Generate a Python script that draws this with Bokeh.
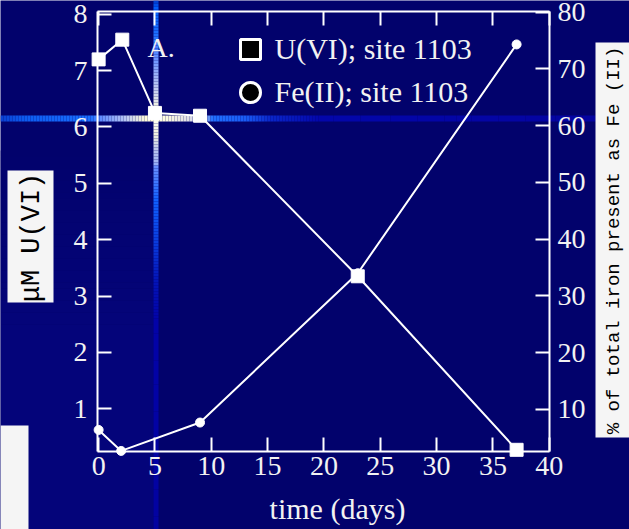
from bokeh.plotting import figure
from bokeh.models import (Range1d, LinearAxis, SingleIntervalTicker, Legend,
                          LegendItem, Label, BoxAnnotation)
from bokeh.embed import file_html
from bokeh.resources import INLINE

# Sampling times (days) and measured values
days_u = [0.0, 2.1, 5.0, 9.0, 23.0, 37.1]
u_vi_um = [7.2, 7.55, 6.25, 6.2, 3.35, 0.27]
days_fe = [0.0, 2.0, 9.0, 23.0, 37.1]
fe_ii_pct = [6.4, 2.7, 7.7, 34.0, 74.3]

series_names = ["U(VI); site 1103", "Fe(II); site 1103"]
panel_tag = "A."
x_title = "time (days)"
left_title = "μM U(VI)"
right_title = "% of total iron present as Fe (II)"

W, H = 629, 529
# plot box on the canvas (px) and the data limits it shows
BOX_L, BOX_R, BOX_T, BOX_B = 97, 549, 11, 451
X_LO, X_HI = -0.1, 40.02
U_LO, U_HI = 0.24, 8.05
FE_LO, FE_HI = 2.6, 80.1


def stretch(lo, hi, p_lo, p_hi, total):
    """Extend a data interval shown between pixels p_lo..p_hi to the full 0..total."""
    k = (hi - lo) / (p_hi - p_lo)
    return lo - p_lo * k, hi + (total - p_hi) * k


xs = stretch(X_LO, X_HI, BOX_L, BOX_R, W)
ys = stretch(U_LO, U_HI, H - BOX_B, H - BOX_T, H)
fs = stretch(FE_LO, FE_HI, H - BOX_B, H - BOX_T, H)

NAVY = "#02026c"
NAVY_LIGHT = "#04047a"
INK = "#f2f2f2"
SERIF = "Liberation Serif"
MONO = "Liberation Mono"
PAPER = "#f5f5f5"

p = figure(width=W, height=H, output_backend="svg", toolbar_location=None,
           x_range=Range1d(*xs), y_range=Range1d(*ys), min_border=0,
           background_fill_color=NAVY, border_fill_color=NAVY,
           outline_line_color=None)
p.extra_y_ranges = {"fe": Range1d(*fs)}
p.grid.visible = False


def style_axis(ax, interval, standoff, where, bounds):
    ax.ticker = SingleIntervalTicker(interval=interval, num_minor_ticks=0)
    ax.fixed_location = where
    ax.bounds = bounds
    ax.axis_line_color = "white"
    ax.axis_line_width = 2
    ax.major_tick_line_color = "white"
    ax.major_tick_line_width = 2
    ax.major_tick_in = 14
    ax.major_tick_out = 0
    ax.minor_tick_line_color = None
    ax.major_label_text_font = SERIF
    ax.major_label_text_color = INK
    ax.major_label_text_font_size = "28px"
    ax.major_label_standoff = standoff


style_axis(p.xaxis[0], 5, 5, U_LO, (X_LO, X_HI))
style_axis(p.yaxis[0], 1, 10, X_LO, (U_LO, U_HI))

top_axis = LinearAxis()
style_axis(top_axis, 5, 0, U_HI, (X_LO, X_HI))
top_axis.major_label_overrides = {v: "" for v in range(0, 45, 5)}
p.add_layout(top_axis, "above")

right_axis = LinearAxis(y_range_name="fe")
style_axis(right_axis, 10, 8, X_HI, (FE_LO, FE_HI))
p.add_layout(right_axis, "right")


def box(l, r, t, b, color, level="annotation"):
    """Filled rectangle given in canvas pixels (origin top-left)."""
    p.add_layout(BoxAnnotation(left=l, right=r, top=H - t, bottom=H - b,
                               left_units="screen", right_units="screen",
                               top_units="screen", bottom_units="screen",
                               fill_color=color, fill_alpha=1, line_color=None,
                               level=level))


# ---- light streaks crossing the panel (drawn underneath everything) ----
def _rgb(h):
    return tuple(int(h[i:i + 2], 16) for i in (1, 3, 5))


def ramp(stops, step=3):
    segs = []
    pos, end = stops[0][0], stops[-1][0]
    while pos < end:
        nxt = min(pos + step, end)
        mid = (pos + nxt) / 2
        for (a, ca), (b, cb) in zip(stops, stops[1:]):
            if a <= mid <= b:
                t = (mid - a) / (b - a)
                c0, c1 = _rgb(ca), _rgb(cb)
                col = "#%02x%02x%02x" % tuple(round(u + (v - u) * t) for u, v in zip(c0, c1))
                break
        if segs and segs[-1][2] == col:
            segs[-1] = (segs[-1][0], nxt, col)
        else:
            segs.append((pos, nxt, col))
        pos = nxt
    return segs


# slightly brighter wash left of the vertical streak, lower part of the page
for a, b, col in ramp([(150, NAVY), (330, NAVY_LIGHT), (529, NAVY_LIGHT)], step=6):
    box(0, 153, a, b, col, level="underlay")

h_stops = [(0, "#0a3fd0"), (25, "#0d5cf0"), (90, "#1a6eff"), (100, "#5f8cff"),
           (125, "#b9c6f2"), (145, "#fffbd8"), (165, "#fffde0"), (190, "#dcdce6"),
           (205, "#aab8e8"), (212, "#2070ff"), (245, "#1a5cf5"), (270, "#0a26c8"),
           (320, "#0306aa"), (595, "#0404a0")]
v_stops = [(0, "#0038c8"), (8, "#0060ff"), (35, "#2070ff"), (60, "#6f95ff"),
           (90, "#c8d0f0"), (108, "#f8f8e0"), (120, "#fffff0"), (135, "#f0f0e0"),
           (150, "#b8c4f0"), (163, "#a0b4f4"), (166, "#6a90ff"), (200, "#1060ff"),
           (240, "#0a3ee0"), (280, "#0314b8"), (320, "#0202a8"), (529, "#0202a0")]

for a, b, col in ramp(h_stops):
    box(a, b, 115, 121, col, level="underlay")
for a, b, col in ramp(v_stops):
    box(153, 158, a, b, col, level="underlay")

# ---- data ----
p.line(days_u, u_vi_um, line_color="white", line_width=2)
p.scatter(days_u, u_vi_um, marker="square", size=13, fill_color="white",
          line_color="white", line_width=1)
p.line(days_fe, fe_ii_pct, y_range_name="fe", line_color="white", line_width=2)
p.scatter(days_fe, fe_ii_pct, y_range_name="fe", marker="circle", size=9,
          fill_color="white", line_color="white", line_width=1)

# ---- legend keys: black fill with a white rim (source point lies off the canvas) ----
off = xs[0] - 50
key_sq = p.scatter([off], [ys[0] - 50], marker="square", fill_color="black",
                   line_color="white", line_width=3)
key_ci = p.scatter([off], [ys[0] - 50], marker="circle", fill_color="black",
                   line_color="white", line_width=3)
for name, key, cy in [(series_names[0], key_sq, 48.5), (series_names[1], key_ci, 91.5)]:
    gw, gh = 50, 56
    p.add_layout(Legend(items=[LegendItem(label=name, renderers=[key])],
                        location=(249.5 - gw / 2, H - cy - gh / 2),
                        glyph_width=gw, glyph_height=gh, spacing=0, padding=0,
                        margin=0, label_standoff=0,
                        label_text_font=SERIF, label_text_font_size="30px",
                        label_text_color=INK, background_fill_alpha=0,
                        border_line_alpha=0))

# ---- texts ----
p.add_layout(Label(x=147, y=H - 47, x_units="screen", y_units="screen",
                   text=panel_tag, text_font=SERIF, text_font_size="28px",
                   text_color=INK, text_baseline="alphabetic"))
p.add_layout(Label(x=337, y=H - 508, x_units="screen", y_units="screen",
                   text=x_title, text_font=SERIF, text_font_size="30px",
                   text_color=INK, text_align="center", text_baseline="alphabetic"))

# paper boxes holding the side titles
box(7, 53, 170, 302, PAPER)
box(595, 640, 42, 437, PAPER)
box(0, 28, 425, 540, PAPER)

p.add_layout(Label(x=31, y=H - 237, x_units="screen", y_units="screen",
                   text=left_title, text_font=MONO, text_font_size="27px",
                   text_color="black", angle=90, angle_units="deg",
                   text_align="center", text_baseline="middle"))
p.add_layout(Label(x=613, y=H - 240, x_units="screen", y_units="screen",
                   text=right_title, text_font=MONO, text_font_size="19px",
                   text_color="black", angle=90, angle_units="deg",
                   text_align="center", text_baseline="middle"))

open("out.html", "w").write(file_html(p, INLINE))
